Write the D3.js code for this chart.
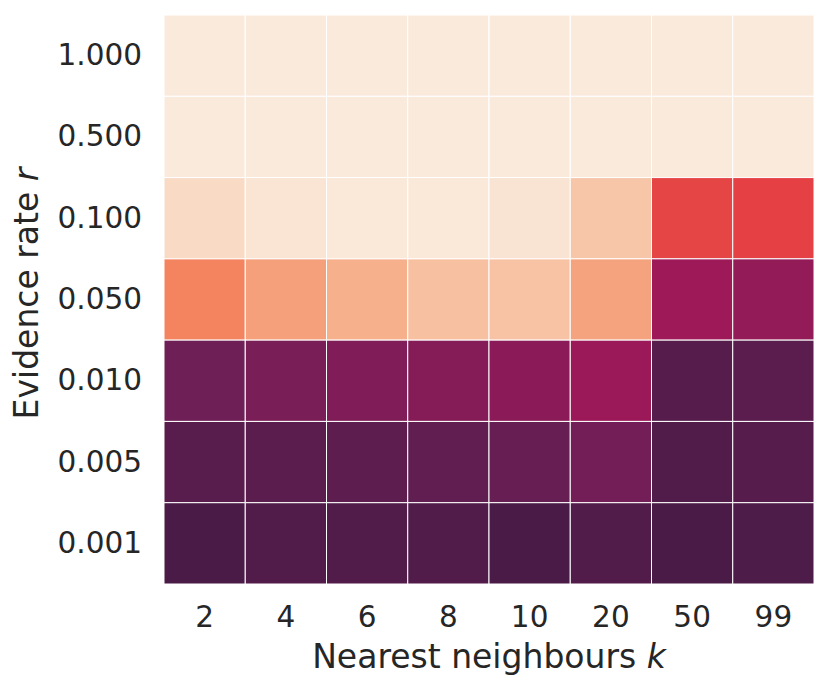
<!DOCTYPE html>
<html>
<head>
<meta charset="utf-8">
<script src="https://cdn.jsdelivr.net/npm/d3@7"></script>
<style>
  html, body { margin: 0; padding: 0; background: #fff; }
  svg { display: block; }
  text { font-family: "DejaVu Sans", sans-serif; fill: #262626; }
</style>
</head>
<body>
<div id="chart"></div>
<script>
// ---- data ----
const rowLabels = ["1.000", "0.500", "0.100", "0.050", "0.010", "0.005", "0.001"];
const colLabels = ["2", "4", "6", "8", "10", "20", "50", "99"];
const row_1000 = [0.998, 0.998, 0.998, 0.998, 0.998, 0.998, 0.998, 0.998];
const row_0500 = [0.998, 0.998, 0.998, 0.998, 0.998, 0.998, 0.998, 0.998];
const row_0100 = [0.956, 0.984, 0.992, 0.992, 0.979, 0.904, 0.610, 0.601];
const row_0050 = [0.746, 0.811, 0.850, 0.888, 0.896, 0.818, 0.391, 0.366];
const row_0010 = [0.281, 0.309, 0.323, 0.335, 0.349, 0.387, 0.223, 0.233];
const row_0005 = [0.228, 0.233, 0.242, 0.250, 0.262, 0.295, 0.213, 0.223];
const row_0001 = [0.196, 0.213, 0.213, 0.213, 0.194, 0.213, 0.194, 0.204];
const values = [row_1000, row_0500, row_0100, row_0050, row_0010, row_0005, row_0001];

// rocket colormap stops
const rocketStops = ["#03051a", "#35193e", "#701f57", "#ad1759", "#e13342", "#f37651", "#f6b48f", "#faebdd"];

const W = 830, H = 694;
const margin = { left: 164, top: 15, right: 16, bottom: 110 };
const plotW = 650, plotH = 569;

const svg = d3.select("#chart").append("svg")
  .attr("width", W).attr("height", H);

const x = d3.scaleBand().domain(colLabels).range([margin.left, margin.left + plotW]).padding(0);
const y = d3.scaleBand().domain(rowLabels).range([margin.top, margin.top + plotH]).padding(0);
const color = d3.scaleLinear()
  .domain(rocketStops.map((_, i) => i / (rocketStops.length - 1)))
  .range(rocketStops)
  .interpolate(d3.interpolateRgb)
  .clamp(true);

const cells = [];
rowLabels.forEach((r, i) => colLabels.forEach((c, j) => cells.push({ r, c, v: values[i][j] })));

svg.append("g").selectAll("rect").data(cells).join("rect")
  .attr("x", d => x(d.c))
  .attr("y", d => y(d.r))
  .attr("width", x.bandwidth())
  .attr("height", y.bandwidth())
  .attr("fill", d => color(d.v))
  .attr("stroke", "#ffffff")
  .attr("stroke-width", 1);

const fs = 29.5;
const lfs = 33;
// x axis
const xAxis = d3.axisBottom(x).tickSize(0).tickPadding(22);
const gx = svg.append("g").attr("transform", `translate(0,${margin.top + plotH})`).call(xAxis);
gx.select(".domain").remove();
gx.selectAll("text").style("font-size", fs + "px").attr("fill", "#262626");

// y axis
const yAxis = d3.axisLeft(y).tickSize(0).tickPadding(22);
const gy = svg.append("g").attr("transform", `translate(${margin.left},0)`).call(yAxis);
gy.select(".domain").remove();
gy.selectAll("text").style("font-size", fs + "px").attr("fill", "#262626");

// axis labels
const xl = svg.append("text")
  .attr("x", margin.left + plotW / 2)
  .attr("y", 668)
  .attr("text-anchor", "middle")
  .style("font-size", lfs + "px");
xl.append("tspan").text("Nearest neighbours ");
xl.append("tspan").style("font-style", "italic").text("k");

const yl = svg.append("text")
  .attr("transform", `translate(38,${margin.top + plotH / 2 - 6}) rotate(-90)`)
  .attr("text-anchor", "middle")
  .style("font-size", lfs + "px");
yl.append("tspan").text("Evidence rate ");
yl.append("tspan").style("font-style", "italic").text("r");
</script>
</body>
</html>
